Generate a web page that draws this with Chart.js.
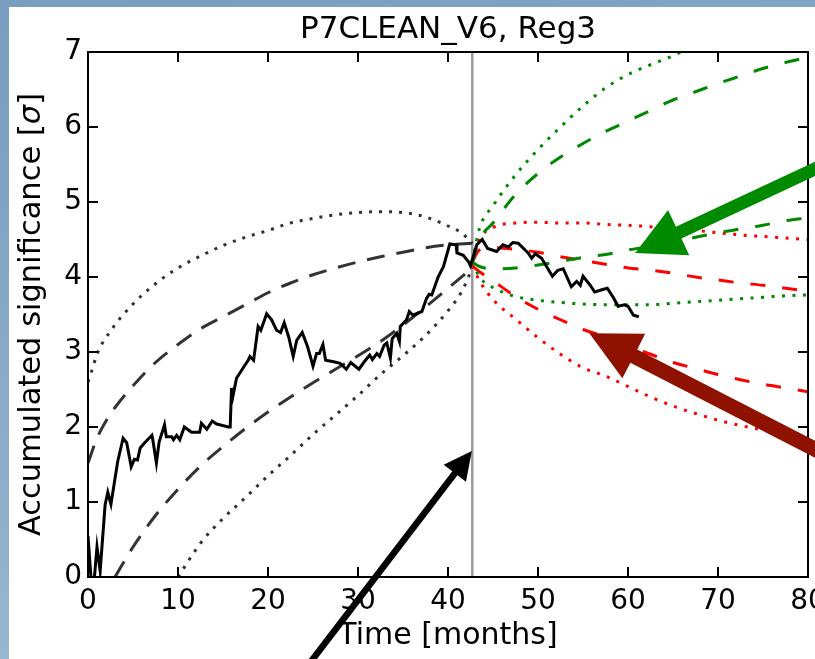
<!DOCTYPE html>
<html>
<head>
<meta charset="utf-8">
<script src="https://cdn.jsdelivr.net/npm/chart.js@4.4.1/dist/chart.umd.min.js"></script>
<style>
  html, body { margin: 0; padding: 0; }
  body { width: 815px; height: 659px; overflow: hidden; position: relative;
         background: linear-gradient(165deg, #789dbf 0%, #8aabc9 45%, #a4bfd6 100%); }
  #sheet { position: absolute; left: 9px; top: 7px; right: 0; bottom: 0; background: #fff; }
  #chart { position: absolute; left: 0; top: 0; }
</style>
</head>
<body>
<div id="sheet"></div>
<canvas id="chart" width="815" height="659"></canvas>
<script>
// ── DATA ─────────────────────────────────────────────
const chartTitle = 'P7CLEAN_V6, Reg3';

// observed accumulated significance (months, sigma)
const obsMonths = [0, 0.5, 1.0, 1.35, 1.9, 2.2, 2.55, 3.3, 3.9, 4.3, 4.8, 5.15, 5.5, 5.8, 6.3, 7.1, 7.2, 7.6, 7.9,
  8.5, 8.7, 9.3, 9.5, 9.85, 10.2, 10.7, 11.5, 12.4, 12.6, 13.2, 13.8, 14.3, 15.6, 15.8, 15.95, 16.1, 16.5, 17.3,
  17.8, 18.0, 18.4, 18.9, 19.2, 19.85, 20.4, 20.95, 21.4, 21.8, 22.3, 22.8, 23.2, 23.8, 24.4, 25.0, 25.4, 25.7,
  26.1, 26.4, 27.3, 28.0, 28.7, 29.2, 30.1, 30.7, 31.3, 31.6, 32.1, 32.4, 32.9, 33.2, 33.6, 33.8, 34.3, 34.6,
  34.7, 35.4, 35.7, 36.1, 37.1, 37.6, 37.9, 38.2, 38.9, 39.5, 40.2, 40.9, 41.0, 41.7, 42.3, 42.5, 43.2, 43.8,
  44.4, 45.4, 46.1, 46.7, 47.2, 47.8, 48.9, 49.3, 49.7, 50.4, 51.6, 52.2, 52.8, 53.7, 54.3, 54.7, 55.0, 55.8,
  56.3, 57.1, 57.7, 58.4, 58.9, 59.6, 60.0, 60.6, 61.2];
const obsSigma = [0.55, -0.3, 0.4, 0.08, 0.96, 1.13, 0.97, 1.54, 1.85, 1.79, 1.47, 1.57, 1.56, 1.72, 1.79, 1.89, 1.83, 1.52, 1.8,
  2.03, 1.87, 1.87, 1.83, 1.89, 1.83, 2.0, 1.93, 1.93, 2.05, 1.97, 2.08, 2.04, 2.0, 2.0, 2.52, 2.41, 2.65, 2.8,
  2.89, 2.94, 2.89, 3.34, 3.29, 3.51, 3.43, 3.29, 3.26, 3.39, 3.2, 2.94, 3.16, 3.26, 3.07, 2.81, 2.98, 2.98,
  3.1, 2.89, 2.87, 2.85, 2.77, 2.86, 2.77, 2.87, 2.96, 2.9, 2.98, 2.94, 3.09, 3.12, 2.92, 3.18, 3.25, 3.14,
  3.34, 3.43, 3.54, 3.49, 3.54, 3.71, 3.77, 3.76, 4.0, 4.14, 4.44, 4.43, 4.32, 4.29, 4.2, 4.15, 4.43, 4.5,
  4.38, 4.34, 4.43, 4.4, 4.46, 4.45, 4.32, 4.25, 4.31, 4.25, 4.01, 4.09, 4.11, 3.87, 3.94, 3.89, 4.01, 3.89,
  3.8, 3.83, 3.85, 3.72, 3.61, 3.63, 3.61, 3.49, 3.47];

// expected bands up to the decision time
const upper1Months = [0, 1, 2, 3, 5, 7.5, 10, 12.5, 15, 17.5, 20, 22.5, 25, 27.5, 30, 32.5, 35, 37.5, 40, 42.7];
const upper1Sigma  = [1.52, 1.85, 2.08, 2.26, 2.55, 2.86, 3.1, 3.31, 3.47, 3.63, 3.79, 3.92, 4.03, 4.12, 4.2, 4.27, 4.33, 4.39, 4.43, 4.45];
const lower1Months = [3, 5, 7.5, 10, 12.5, 15, 17.5, 20, 22.5, 25, 27.5, 30, 32.5, 35, 37.5, 40, 42.7];
const lower1Sigma  = [0, 0.4, 0.82, 1.17, 1.48, 1.74, 1.98, 2.2, 2.4, 2.59, 2.77, 2.95, 3.14, 3.36, 3.6, 3.85, 4.12];
const upper2Months = [0, 0.5, 1, 2.5, 5, 7.5, 10, 12.5, 15, 17.5, 20, 22.5, 25, 27.5, 30, 32.5, 35, 37.5, 40, 41.5, 42.7];
const upper2Sigma  = [2.6, 2.78, 2.97, 3.28, 3.64, 3.91, 4.12, 4.28, 4.42, 4.53, 4.62, 4.72, 4.78, 4.83, 4.86, 4.87, 4.86, 4.8, 4.68, 4.59, 4.45];
const lower2Months = [10, 12.5, 15, 17.5, 20, 22.5, 25, 27.5, 30, 32.5, 35, 37.5, 40, 41.5, 42.7];
const lower2Sigma  = [0, 0.45, 0.78, 1.06, 1.35, 1.62, 1.9, 2.16, 2.42, 2.7, 2.95, 3.22, 3.55, 3.8, 4.12];

// decision time
const tDecision = 42.7;

// forward projections after the decision time
const fwdMonths     = [42.7, 43.5, 45, 47.5, 50, 52.5, 55, 57.5, 60, 62.5, 65, 67.5, 70, 72.5, 75, 77.5, 80];
const greenDotHigh  = [4.2, 4.65, 4.95, 5.36, 5.7, 6.0, 6.28, 6.52, 6.7, 6.83, 6.95, 7.1, null, null, null, null, null];
const greenDashHigh = [4.2, 4.5, 4.72, 5.1, 5.38, 5.6, 5.78, 5.94, 6.08, 6.22, 6.36, 6.47, 6.58, 6.68, 6.78, 6.86, 6.93];
const greenDashLow  = [4.2, 4.14, 4.11, 4.12, 4.16, 4.21, 4.26, 4.3, 4.36, 4.41, 4.47, 4.53, 4.59, 4.64, 4.69, 4.75, 4.79];
const greenDotLow   = [4.2, 4.0, 3.86, 3.74, 3.69, 3.66, 3.64, 3.63, 3.63, 3.63, 3.65, 3.67, 3.69, 3.71, 3.73, 3.75, 3.76];
const redDotHigh    = [4.2, 4.5, 4.66, 4.72, 4.73, 4.72, 4.72, 4.7, 4.69, 4.67, 4.64, 4.62, 4.59, 4.56, 4.54, 4.52, 4.5];
const redDashHigh   = [4.2, 4.36, 4.39, 4.37, 4.33, 4.27, 4.22, 4.17, 4.12, 4.09, 4.05, 4.0, 3.96, 3.92, 3.89, 3.85, 3.81];
const redDashLow    = [4.15, 4.07, 3.95, 3.74, 3.57, 3.43, 3.3, 3.2, 3.08, 2.97, 2.86, 2.78, 2.7, 2.63, 2.57, 2.52, 2.47];
const redDotLow     = [4.15, 3.95, 3.7, 3.44, 3.19, 2.97, 2.79, 2.68, 2.54, 2.4, 2.28, 2.18, 2.09, 2.02, 1.96, 1.9, 1.84];

// annotation arrows, in data units (month, sigma)
const arrows = [
  { from: [83.6, 5.6],  to: [60.8, 4.32],  color: '#008a00', shaft: 13,  head: 48, half: 25 },
  { from: [83.6, 1.53], to: [55.7, 3.25],  color: '#8f1100', shaft: 15,  head: 50, half: 25 },
  { from: [23.8, -1.28], to: [42.65, 1.68], color: '#000000', shaft: 6.5, head: 28, half: 14 },
];

const FONT = "'DejaVu Sans', sans-serif";

// ── HELPERS ──────────────────────────────────────────
const pts = (xs, ys) => xs.map((x, i) => ({ x, y: ys[i] }));

function curva(xs, ys, color, dash, width) {
  return {
    data: pts(xs, ys), borderColor: color, borderDash: dash, borderWidth: width,
    borderCapStyle: 'butt', pointRadius: 0, cubicInterpolationMode: 'monotone', fill: false,
  };
}

const DASH_K = [18, 12], DOT_K = [3, 7];
const DASH_C = [15, 17], DOT_C = [3, 7.5];
const GREEN = '#008800', RED = '#ff0000', DARK = '#333333';

// ── PLUGINS ──────────────────────────────────────────
const marcoTicks = {
  id: 'marcoTicks',
  afterDatasetsDraw(chart) {
    const { ctx, chartArea: a, scales: { x, y } } = chart;
    ctx.save();
    ctx.strokeStyle = '#000';
    ctx.lineWidth = 2;
    ctx.strokeRect(a.left, a.top, a.right - a.left, a.bottom - a.top);
    const L = 10;
    ctx.beginPath();
    x.ticks.forEach(t => {
      const px = Math.round(x.getPixelForValue(t.value));
      ctx.moveTo(px, a.bottom); ctx.lineTo(px, a.bottom - L);
      ctx.moveTo(px, a.top);    ctx.lineTo(px, a.top + L);
    });
    y.ticks.forEach(t => {
      const py = Math.round(y.getPixelForValue(t.value));
      ctx.moveTo(a.left, py);  ctx.lineTo(a.left + L, py);
      ctx.moveTo(a.right, py); ctx.lineTo(a.right - L, py);
    });
    ctx.stroke();

    // title centred over the plot box
    ctx.fillStyle = '#000';
    ctx.font = `normal 31px ${FONT}`;
    ctx.textAlign = 'center';
    ctx.textBaseline = 'alphabetic';
    ctx.fillText(chartTitle, (a.left + a.right) / 2, a.top - 14);

    // y axis title, sigma in italic
    const parts = [['Accumulated significance [', 'normal'], ['\u03c3', 'italic'], [']', 'normal']];
    let total = 0;
    parts.forEach(p => { ctx.font = `${p[1]} 30.5px ${FONT}`; p.w = ctx.measureText(p[0]).width; total += p.w; });
    const cy = (a.top + a.bottom) / 2;
    ctx.translate(40, cy);
    ctx.rotate(-Math.PI / 2);
    ctx.textAlign = 'left';
    let cx = -total / 2;
    parts.forEach(p => { ctx.font = `${p[1]} 30.5px ${FONT}`; ctx.fillText(p[0], cx, 0); cx += p.w; });
    ctx.restore();
  },
  afterDraw(chart) {
    const { ctx, scales: { x, y } } = chart;
    ctx.save();
    arrows.forEach(ar => {
      const x0 = x.getPixelForValue(ar.from[0]), y0 = y.getPixelForValue(ar.from[1]);
      const x1 = x.getPixelForValue(ar.to[0]),   y1 = y.getPixelForValue(ar.to[1]);
      const len = Math.hypot(x1 - x0, y1 - y0);
      const ux = (x1 - x0) / len, uy = (y1 - y0) / len;
      const nx = -uy, ny = ux;
      const bx = x1 - ux * ar.head, by = y1 - uy * ar.head;
      const w = ar.shaft / 2;
      ctx.fillStyle = ar.color;
      ctx.beginPath();
      ctx.moveTo(x0 + nx * w, y0 + ny * w);
      ctx.lineTo(bx + nx * w, by + ny * w);
      ctx.lineTo(bx + nx * ar.half, by + ny * ar.half);
      ctx.lineTo(x1, y1);
      ctx.lineTo(bx - nx * ar.half, by - ny * ar.half);
      ctx.lineTo(bx - nx * w, by - ny * w);
      ctx.lineTo(x0 - nx * w, y0 - ny * w);
      ctx.closePath();
      ctx.fill();
    });
    ctx.restore();
  }
};

// ── CHART ────────────────────────────────────────────
const datasets = [
  { data: pts(obsMonths, obsSigma), borderColor: '#000', borderWidth: 3, pointRadius: 0, tension: 0, fill: false },
  curva(fwdMonths, greenDotHigh, GREEN, DOT_C, 3),
  curva(fwdMonths, greenDashHigh, GREEN, DASH_C, 3),
  curva(fwdMonths, greenDashLow, GREEN, DASH_C, 3),
  curva(fwdMonths, greenDotLow, GREEN, DOT_C, 3),
  curva(fwdMonths, redDotHigh, RED, DOT_C, 3),
  curva(fwdMonths, redDashHigh, RED, DASH_C, 3),
  curva(fwdMonths, redDashLow, RED, DASH_C, 3),
  curva(fwdMonths, redDotLow, RED, DOT_C, 3),
  curva(upper1Months, upper1Sigma, DARK, DASH_K, 3),
  curva(lower1Months, lower1Sigma, DARK, DASH_K, 3),
  curva(upper2Months, upper2Sigma, DARK, DOT_K, 3),
  curva(lower2Months, lower2Sigma, DARK, DOT_K, 3),
  { data: [{ x: tDecision, y: 0 }, { x: tDecision, y: 7 }], borderColor: '#9a9a9a', borderWidth: 2.5, pointRadius: 0 },
];

new Chart(document.getElementById('chart').getContext('2d'), {
  type: 'line',
  data: { datasets },
  options: {
    responsive: false,
    animation: false,
    devicePixelRatio: 1,
    layout: { padding: { left: 0, right: 7, top: 52, bottom: 0 } },
    plugins: {
      legend: { display: false },
      tooltip: { enabled: false },
      title: { display: false },
    },
    scales: {
      x: {
        type: 'linear', min: 0, max: 80,
        ticks: { stepSize: 10, color: '#000', font: { family: FONT, size: 28 }, padding: 8, maxRotation: 0, autoSkip: false },
        grid: { display: false, drawTicks: false, tickLength: 0 },
        border: { display: false },
        title: { display: true, text: 'Time [months]', color: '#000',
                 font: { family: FONT, size: 30 }, padding: { top: 0, bottom: 5 } },
        afterFit: s => { s.height = 82; s.paddingLeft = 0; s.paddingRight = 0; },
      },
      y: {
        min: 0, max: 7,
        ticks: { stepSize: 1, color: '#000', font: { family: FONT, size: 28 }, padding: 6 },
        grid: { display: false, drawTicks: false, tickLength: 0 },
        border: { display: false },
        afterFit: s => { s.width = 88; s.paddingTop = 0; s.paddingBottom = 0; },
      },
    },
  },
  plugins: [marcoTicks],
});
</script>
</body>
</html>
